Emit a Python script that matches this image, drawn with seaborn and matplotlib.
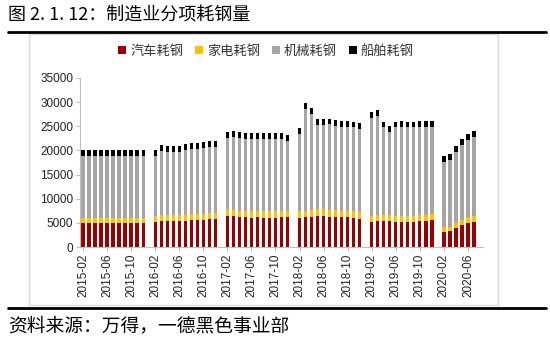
import numpy as np
import pandas as pd
import matplotlib
matplotlib.use("Agg")
import matplotlib.pyplot as plt
from matplotlib.patches import Patch, Rectangle
from matplotlib.lines import Line2D
import seaborn as sns

# ---- data (10k tons), months 2015-02 .. 2020-07, January has no data ----
months = [str(p) for p in pd.period_range("2015-02", "2020-07", freq="M")]
nan = np.nan
auto = [4900]*11 + \
    [nan, 5240, 5350, 5350, 5400, 5400, 5450, 5500, 5550, 5600, 5700, 5730] + \
    [nan, 6480, 6350, 6200, 6150, 6100, 6150, 6100, 6100, 6100, 6150, 6150] + \
    [nan, 6000, 6150, 6280, 6400, 6400, 6280, 6280, 6150, 6150, 6000, 5860] + \
    [nan, 5240, 5450, 5400, 5400, 5240, 5240, 5240, 5240, 5400, 5450, 5660] + \
    [nan, 3170, 3240, 3990, 4550, 5030, 5240]
appliance = [1200]*11 + \
    [nan] + [1250]*11 + \
    [nan] + [1350]*11 + \
    [nan] + [1400]*11 + \
    [nan] + [1250]*11 + \
    [nan, 1000, 1000, 1050, 1100, 1200, 1250]
machinery = [12800]*11 + \
    [nan, 12390, 13250, 13050, 13000, 13000, 13360, 13520, 13470, 13690, 13730, 13700] + \
    [nan, 14780, 15050, 15060, 14970, 14890, 14970, 15020, 15020, 14950, 14840, 14550] + \
    [nan, 15970, 21000, 19960, 17500, 17430, 17690, 17420, 17340, 17340, 17350, 17210] + \
    [nan, 20200, 20460, 18100, 17270, 18260, 18400, 18260, 18260, 18240, 18190, 17980] + \
    [nan, 13520, 13860, 14720, 15490, 15950, 16370]
ship = [1200]*11 + \
    [nan] + [1200]*11 + \
    [nan] + [1200]*11 + \
    [nan] + [1200]*11 + \
    [nan] + [1200]*11 + \
    [nan, 1150, 1150, 1150, 1150, 1150, 1150]

series_names = ["汽车耗钢", "家电耗钢", "机械耗钢", "船舶耗钢"]
colors = ["#990000", "#FFC000", "#A6A6A6", "#000000"]
yticks = [0, 5000, 10000, 15000, 20000, 25000, 30000, 35000]

df = pd.DataFrame({"month": months, "auto": auto, "appliance": appliance,
                   "machinery": machinery, "ship": ship})
df["c1"] = df["auto"]
df["c2"] = df["c1"] + df["appliance"]
df["c3"] = df["c2"] + df["machinery"]
df["c4"] = df["c3"] + df["ship"]

sns.set_theme(style="white")
plt.rcParams["font.family"] = ["Noto Sans CJK SC", "DejaVu Sans"]

W, H = 550, 346
fig = plt.figure(figsize=(W/100, H/100), dpi=100)
ax = fig.add_axes([80/W, 1-247/H, (483-80)/W, (247-78)/H])

for col, c in zip(["c4", "c3", "c2", "c1"], colors[::-1]):
    sns.barplot(data=df, x="month", y=col, order=months, color=c,
                saturation=1, width=0.55, ax=ax, errorbar=None, linewidth=0)

ax.set_xlim(-0.5, len(months) + 0.5)
ax.set_ylim(0, 35000)
ax.set_yticks(yticks)
ax.set_yticklabels([str(v) for v in yticks], family="Liberation Sans",
                   fontsize=8.5, color="#222222")
pos = list(range(0, len(months), 4))
ax.set_xticks(pos)
ax.set_xticklabels([months[i] for i in pos], rotation=90, family="Liberation Sans",
                   fontsize=8.5, color="#222222")
ax.set_xlabel("")
ax.set_ylabel("")
for s in ["top", "right"]:
    ax.spines[s].set_visible(False)
for s in ["left", "bottom"]:
    ax.spines[s].set_color("#BFBFBF")
    ax.spines[s].set_linewidth(0.8)
ax.tick_params(axis="both", which="both", length=3, width=0.8, color="#BFBFBF",
               direction="out", pad=2)
ax.tick_params(axis="y", left=True)
ax.tick_params(axis="x", bottom=True)
ax.grid(False)

handles = [Patch(facecolor=c, edgecolor="none") for c in colors]
fig.legend(handles, series_names, loc="center", bbox_to_anchor=(266/W, 1-51/H),
           ncol=4, frameon=False, fontsize=9.5, handlelength=0.6, handleheight=0.6,
           handletextpad=0.3, columnspacing=0.9, labelcolor="#333333")

# frame and rules
fig.patches.append(Rectangle((29/W, 1-305/H), (498-29)/W, (305-34)/H,
                             transform=fig.transFigure, fill=False,
                             edgecolor="#D9D9D9", linewidth=1))
for yy in [32, 308]:
    fig.add_artist(Line2D([8/W, 546/W], [1-yy/H, 1-yy/H], transform=fig.transFigure,
                          color="black", linewidth=2))

fig.text(8/W, 1-16/H, "图 2. 1. 12：制造业分项耗钢量", fontsize=13, va="center",
         ha="left", color="black")
fig.text(8/W, 1-326/H, "资料来源：万得，一德黑色事业部", fontsize=13.5, va="center",
         ha="left", color="black")

fig.savefig("out.png", dpi=100)
